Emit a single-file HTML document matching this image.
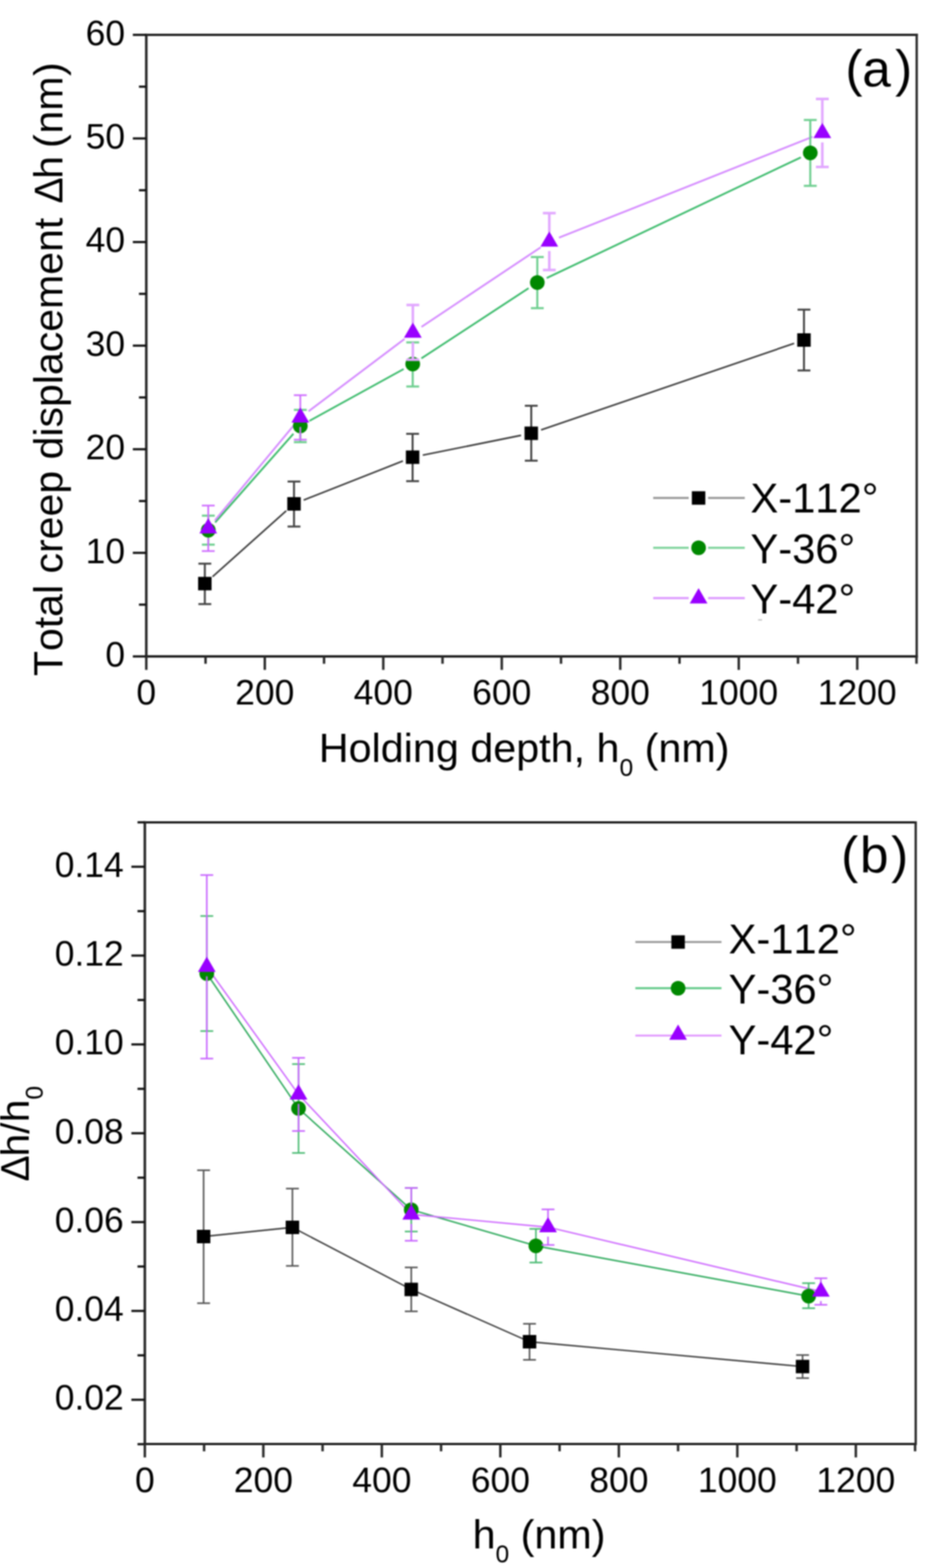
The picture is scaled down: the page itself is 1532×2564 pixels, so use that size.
<!DOCTYPE html>
<html><head><meta charset="utf-8"><title>Creep displacement</title>
<style>
html,body{margin:0;padding:0;background:#fff;}
body{width:1532px;height:2564px;overflow:hidden;}
svg{display:block;filter:blur(0.85px);}
text{font-family:"Liberation Sans", Arial, Helvetica, sans-serif;fill:#000;font-kerning:none;font-feature-settings:"kern" 0;}
</style></head>
<body>
<svg width="1532" height="2564" viewBox="0 0 1532 2564">
<rect width="1532" height="2564" fill="#fff"/>
<line x1="239.20" y1="57.00" x2="1498.80" y2="57.00" stroke="#111" stroke-width="3.6" stroke-linecap="square"/>
<line x1="239.20" y1="1073.40" x2="1498.80" y2="1073.40" stroke="#111" stroke-width="3.6" stroke-linecap="square"/>
<line x1="239.20" y1="57.00" x2="239.20" y2="1073.40" stroke="#2a2a2a" stroke-width="4.2" stroke-linecap="square"/>
<line x1="1498.80" y1="57.00" x2="1498.80" y2="1073.40" stroke="#2a2a2a" stroke-width="3.8000000000000003" stroke-linecap="square"/>
<line x1="217.20" y1="1073.40" x2="239.20" y2="1073.40" stroke="#111" stroke-width="3.6" stroke-linecap="butt"/>
<line x1="217.20" y1="904.00" x2="239.20" y2="904.00" stroke="#111" stroke-width="3.6" stroke-linecap="butt"/>
<line x1="217.20" y1="734.60" x2="239.20" y2="734.60" stroke="#111" stroke-width="3.6" stroke-linecap="butt"/>
<line x1="217.20" y1="565.20" x2="239.20" y2="565.20" stroke="#111" stroke-width="3.6" stroke-linecap="butt"/>
<line x1="217.20" y1="395.80" x2="239.20" y2="395.80" stroke="#111" stroke-width="3.6" stroke-linecap="butt"/>
<line x1="217.20" y1="226.40" x2="239.20" y2="226.40" stroke="#111" stroke-width="3.6" stroke-linecap="butt"/>
<line x1="217.20" y1="57.00" x2="239.20" y2="57.00" stroke="#111" stroke-width="3.6" stroke-linecap="butt"/>
<line x1="227.20" y1="988.70" x2="239.20" y2="988.70" stroke="#111" stroke-width="3.6" stroke-linecap="butt"/>
<line x1="227.20" y1="819.30" x2="239.20" y2="819.30" stroke="#111" stroke-width="3.6" stroke-linecap="butt"/>
<line x1="227.20" y1="649.90" x2="239.20" y2="649.90" stroke="#111" stroke-width="3.6" stroke-linecap="butt"/>
<line x1="227.20" y1="480.50" x2="239.20" y2="480.50" stroke="#111" stroke-width="3.6" stroke-linecap="butt"/>
<line x1="227.20" y1="311.10" x2="239.20" y2="311.10" stroke="#111" stroke-width="3.6" stroke-linecap="butt"/>
<line x1="227.20" y1="141.70" x2="239.20" y2="141.70" stroke="#111" stroke-width="3.6" stroke-linecap="butt"/>
<line x1="239.20" y1="1073.40" x2="239.20" y2="1095.40" stroke="#2a2a2a" stroke-width="4.0" stroke-linecap="butt"/>
<line x1="432.93" y1="1073.40" x2="432.93" y2="1095.40" stroke="#2a2a2a" stroke-width="4.0" stroke-linecap="butt"/>
<line x1="626.67" y1="1073.40" x2="626.67" y2="1095.40" stroke="#2a2a2a" stroke-width="4.0" stroke-linecap="butt"/>
<line x1="820.40" y1="1073.40" x2="820.40" y2="1095.40" stroke="#2a2a2a" stroke-width="4.0" stroke-linecap="butt"/>
<line x1="1014.13" y1="1073.40" x2="1014.13" y2="1095.40" stroke="#2a2a2a" stroke-width="4.0" stroke-linecap="butt"/>
<line x1="1207.87" y1="1073.40" x2="1207.87" y2="1095.40" stroke="#2a2a2a" stroke-width="4.0" stroke-linecap="butt"/>
<line x1="1401.60" y1="1073.40" x2="1401.60" y2="1095.40" stroke="#2a2a2a" stroke-width="4.0" stroke-linecap="butt"/>
<line x1="336.07" y1="1073.40" x2="336.07" y2="1085.40" stroke="#2a2a2a" stroke-width="4.0" stroke-linecap="butt"/>
<line x1="529.80" y1="1073.40" x2="529.80" y2="1085.40" stroke="#2a2a2a" stroke-width="4.0" stroke-linecap="butt"/>
<line x1="723.53" y1="1073.40" x2="723.53" y2="1085.40" stroke="#2a2a2a" stroke-width="4.0" stroke-linecap="butt"/>
<line x1="917.27" y1="1073.40" x2="917.27" y2="1085.40" stroke="#2a2a2a" stroke-width="4.0" stroke-linecap="butt"/>
<line x1="1111.00" y1="1073.40" x2="1111.00" y2="1085.40" stroke="#2a2a2a" stroke-width="4.0" stroke-linecap="butt"/>
<line x1="1304.73" y1="1073.40" x2="1304.73" y2="1085.40" stroke="#2a2a2a" stroke-width="4.0" stroke-linecap="butt"/>
<line x1="1498.47" y1="1073.40" x2="1498.47" y2="1085.40" stroke="#2a2a2a" stroke-width="4.0" stroke-linecap="butt"/>
<text x="204.50" y="1089.90" font-size="58" text-anchor="end" >0</text>
<text x="204.50" y="920.50" font-size="58" text-anchor="end" >10</text>
<text x="204.50" y="751.10" font-size="58" text-anchor="end" >20</text>
<text x="204.50" y="581.70" font-size="58" text-anchor="end" >30</text>
<text x="204.50" y="412.30" font-size="58" text-anchor="end" >40</text>
<text x="204.50" y="242.90" font-size="58" text-anchor="end" >50</text>
<text x="204.50" y="73.50" font-size="58" text-anchor="end" >60</text>
<text x="239.20" y="1151.50" font-size="58" text-anchor="middle" >0</text>
<text x="432.93" y="1151.50" font-size="58" text-anchor="middle" >200</text>
<text x="626.67" y="1151.50" font-size="58" text-anchor="middle" >400</text>
<text x="820.40" y="1151.50" font-size="58" text-anchor="middle" >600</text>
<text x="1014.13" y="1151.50" font-size="58" text-anchor="middle" >800</text>
<text x="1207.87" y="1151.50" font-size="58" text-anchor="middle" >1000</text>
<text x="1401.60" y="1151.50" font-size="58" text-anchor="middle" >1200</text>
<text transform="translate(102.2,1105.6) rotate(-90)" x="0" y="0" font-size="67.1">Total creep displacement <tspan dx="4.5" font-size="64">&#916;</tspan><tspan dx="-2.3">h</tspan> <tspan dx="-5.7">(</tspan><tspan dx="1.4">nm</tspan><tspan dx="0.8">)</tspan></text>
<text x="521.3" y="1246.2" font-size="67.5">Holding depth, h<tspan font-size="40" dy="23">0</tspan><tspan dy="-23"> (nm)</tspan></text>
<text x="1382.35 1409.85 1463.45" y="141" font-size="84">(a)</text>
<line x1="347.57" y1="942.97" x2="468.03" y2="835.23" stroke="#3a3a3a" stroke-width="2.6" stroke-linecap="butt"/>
<line x1="496.52" y1="817.68" x2="658.78" y2="753.82" stroke="#3a3a3a" stroke-width="2.6" stroke-linecap="butt"/>
<line x1="691.26" y1="744.24" x2="851.94" y2="711.86" stroke="#3a3a3a" stroke-width="2.6" stroke-linecap="butt"/>
<line x1="884.69" y1="703.00" x2="1298.41" y2="561.50" stroke="#3a3a3a" stroke-width="2.6" stroke-linecap="butt"/>
<line x1="351.85" y1="854.15" x2="479.75" y2="709.25" stroke="#3cbb6c" stroke-width="3" stroke-linecap="butt"/>
<line x1="505.89" y1="688.30" x2="659.91" y2="603.50" stroke="#3cbb6c" stroke-width="3" stroke-linecap="butt"/>
<line x1="689.02" y1="585.99" x2="864.28" y2="471.31" stroke="#3cbb6c" stroke-width="3" stroke-linecap="butt"/>
<line x1="893.86" y1="454.71" x2="1309.44" y2="257.29" stroke="#3cbb6c" stroke-width="3" stroke-linecap="butt"/>
<line x1="351.36" y1="850.92" x2="480.14" y2="695.78" stroke="#d58cff" stroke-width="3" stroke-linecap="butt"/>
<line x1="504.58" y1="672.47" x2="661.42" y2="554.23" stroke="#d58cff" stroke-width="3" stroke-linecap="butt"/>
<line x1="689.14" y1="534.56" x2="883.96" y2="404.44" stroke="#d58cff" stroke-width="3" stroke-linecap="butt"/>
<line x1="913.90" y1="388.72" x2="1328.70" y2="223.68" stroke="#d58cff" stroke-width="3" stroke-linecap="butt"/>
<line x1="334.90" y1="921.70" x2="334.90" y2="987.80" stroke="#444" stroke-width="3.2" stroke-linecap="butt"/>
<line x1="324.40" y1="921.70" x2="345.40" y2="921.70" stroke="#444" stroke-width="3.2" stroke-linecap="butt"/>
<line x1="324.40" y1="987.80" x2="345.40" y2="987.80" stroke="#444" stroke-width="3.2" stroke-linecap="butt"/>
<line x1="480.70" y1="787.40" x2="480.70" y2="861.00" stroke="#444" stroke-width="3.2" stroke-linecap="butt"/>
<line x1="470.20" y1="787.40" x2="491.20" y2="787.40" stroke="#444" stroke-width="3.2" stroke-linecap="butt"/>
<line x1="470.20" y1="861.00" x2="491.20" y2="861.00" stroke="#444" stroke-width="3.2" stroke-linecap="butt"/>
<line x1="674.60" y1="709.40" x2="674.60" y2="786.80" stroke="#444" stroke-width="3.2" stroke-linecap="butt"/>
<line x1="664.10" y1="709.40" x2="685.10" y2="709.40" stroke="#444" stroke-width="3.2" stroke-linecap="butt"/>
<line x1="664.10" y1="786.80" x2="685.10" y2="786.80" stroke="#444" stroke-width="3.2" stroke-linecap="butt"/>
<line x1="868.60" y1="663.50" x2="868.60" y2="753.30" stroke="#444" stroke-width="3.2" stroke-linecap="butt"/>
<line x1="858.10" y1="663.50" x2="879.10" y2="663.50" stroke="#444" stroke-width="3.2" stroke-linecap="butt"/>
<line x1="858.10" y1="753.30" x2="879.10" y2="753.30" stroke="#444" stroke-width="3.2" stroke-linecap="butt"/>
<line x1="1314.50" y1="506.30" x2="1314.50" y2="605.80" stroke="#444" stroke-width="3.2" stroke-linecap="butt"/>
<line x1="1304.00" y1="506.30" x2="1325.00" y2="506.30" stroke="#444" stroke-width="3.2" stroke-linecap="butt"/>
<line x1="1304.00" y1="605.80" x2="1325.00" y2="605.80" stroke="#444" stroke-width="3.2" stroke-linecap="butt"/>
<rect x="323.90" y="943.30" width="22" height="22" fill="#000"/>
<rect x="469.70" y="812.90" width="22" height="22" fill="#000"/>
<rect x="663.60" y="736.60" width="22" height="22" fill="#000"/>
<rect x="857.60" y="697.50" width="22" height="22" fill="#000"/>
<rect x="1303.50" y="545.00" width="22" height="22" fill="#000"/>
<line x1="340.60" y1="843.20" x2="340.60" y2="890.60" stroke="#6fcf90" stroke-width="3.4" stroke-linecap="butt"/>
<line x1="330.10" y1="843.20" x2="351.10" y2="843.20" stroke="#6fcf90" stroke-width="3.4" stroke-linecap="butt"/>
<line x1="330.10" y1="890.60" x2="351.10" y2="890.60" stroke="#6fcf90" stroke-width="3.4" stroke-linecap="butt"/>
<line x1="491.00" y1="670.20" x2="491.00" y2="723.00" stroke="#6fcf90" stroke-width="3.4" stroke-linecap="butt"/>
<line x1="480.50" y1="670.20" x2="501.50" y2="670.20" stroke="#6fcf90" stroke-width="3.4" stroke-linecap="butt"/>
<line x1="480.50" y1="723.00" x2="501.50" y2="723.00" stroke="#6fcf90" stroke-width="3.4" stroke-linecap="butt"/>
<line x1="674.80" y1="559.90" x2="674.80" y2="632.00" stroke="#6fcf90" stroke-width="3.4" stroke-linecap="butt"/>
<line x1="664.30" y1="559.90" x2="685.30" y2="559.90" stroke="#6fcf90" stroke-width="3.4" stroke-linecap="butt"/>
<line x1="664.30" y1="632.00" x2="685.30" y2="632.00" stroke="#6fcf90" stroke-width="3.4" stroke-linecap="butt"/>
<line x1="878.50" y1="420.30" x2="878.50" y2="503.90" stroke="#6fcf90" stroke-width="3.4" stroke-linecap="butt"/>
<line x1="868.00" y1="420.30" x2="889.00" y2="420.30" stroke="#6fcf90" stroke-width="3.4" stroke-linecap="butt"/>
<line x1="868.00" y1="503.90" x2="889.00" y2="503.90" stroke="#6fcf90" stroke-width="3.4" stroke-linecap="butt"/>
<line x1="1324.80" y1="196.20" x2="1324.80" y2="303.90" stroke="#6fcf90" stroke-width="3.4" stroke-linecap="butt"/>
<line x1="1314.30" y1="196.20" x2="1335.30" y2="196.20" stroke="#6fcf90" stroke-width="3.4" stroke-linecap="butt"/>
<line x1="1314.30" y1="303.90" x2="1335.30" y2="303.90" stroke="#6fcf90" stroke-width="3.4" stroke-linecap="butt"/>
<circle cx="340.60" cy="866.90" r="12" fill="#008800"/>
<circle cx="491.00" cy="696.50" r="12" fill="#008800"/>
<circle cx="674.80" cy="595.30" r="12" fill="#008800"/>
<circle cx="878.50" cy="462.00" r="12" fill="#008800"/>
<circle cx="1324.80" cy="250.00" r="12" fill="#008800"/>
<line x1="340.50" y1="826.70" x2="340.50" y2="848.50" stroke="#cf6fff" stroke-width="2.8" stroke-linecap="butt"/>
<line x1="340.50" y1="879.50" x2="340.50" y2="901.10" stroke="#cf6fff" stroke-width="2.8" stroke-linecap="butt"/>
<line x1="330.00" y1="826.70" x2="351.00" y2="826.70" stroke="#cf6fff" stroke-width="2.8" stroke-linecap="butt"/>
<line x1="330.00" y1="901.10" x2="351.00" y2="901.10" stroke="#cf6fff" stroke-width="2.8" stroke-linecap="butt"/>
<line x1="491.00" y1="646.20" x2="491.00" y2="667.20" stroke="#cf6fff" stroke-width="2.8" stroke-linecap="butt"/>
<line x1="491.00" y1="698.20" x2="491.00" y2="719.00" stroke="#cf6fff" stroke-width="2.8" stroke-linecap="butt"/>
<line x1="480.50" y1="646.20" x2="501.50" y2="646.20" stroke="#cf6fff" stroke-width="2.8" stroke-linecap="butt"/>
<line x1="480.50" y1="719.00" x2="501.50" y2="719.00" stroke="#cf6fff" stroke-width="2.8" stroke-linecap="butt"/>
<line x1="675.00" y1="498.70" x2="675.00" y2="528.50" stroke="#e2a8ff" stroke-width="4.2" stroke-linecap="butt"/>
<line x1="675.00" y1="559.50" x2="675.00" y2="588.20" stroke="#e2a8ff" stroke-width="4.2" stroke-linecap="butt"/>
<line x1="664.50" y1="498.70" x2="685.50" y2="498.70" stroke="#e2a8ff" stroke-width="4.2" stroke-linecap="butt"/>
<line x1="664.50" y1="588.20" x2="685.50" y2="588.20" stroke="#e2a8ff" stroke-width="4.2" stroke-linecap="butt"/>
<line x1="898.10" y1="348.50" x2="898.10" y2="379.50" stroke="#e2a8ff" stroke-width="4.2" stroke-linecap="butt"/>
<line x1="898.10" y1="410.50" x2="898.10" y2="441.50" stroke="#e2a8ff" stroke-width="4.2" stroke-linecap="butt"/>
<line x1="887.60" y1="348.50" x2="908.60" y2="348.50" stroke="#e2a8ff" stroke-width="4.2" stroke-linecap="butt"/>
<line x1="887.60" y1="441.50" x2="908.60" y2="441.50" stroke="#e2a8ff" stroke-width="4.2" stroke-linecap="butt"/>
<line x1="1344.50" y1="161.80" x2="1344.50" y2="201.90" stroke="#e2a8ff" stroke-width="4.2" stroke-linecap="butt"/>
<line x1="1344.50" y1="232.90" x2="1344.50" y2="273.00" stroke="#e2a8ff" stroke-width="4.2" stroke-linecap="butt"/>
<line x1="1334.00" y1="161.80" x2="1355.00" y2="161.80" stroke="#e2a8ff" stroke-width="4.2" stroke-linecap="butt"/>
<line x1="1334.00" y1="273.00" x2="1355.00" y2="273.00" stroke="#e2a8ff" stroke-width="4.2" stroke-linecap="butt"/>
<polygon points="340.50,847.26 326.00,872.37 355.00,872.37" fill="#9900ff"/>
<polygon points="491.00,665.96 476.50,691.07 505.50,691.07" fill="#9900ff"/>
<polygon points="675.00,527.26 660.50,552.37 689.50,552.37" fill="#9900ff"/>
<polygon points="898.10,378.26 883.60,403.37 912.60,403.37" fill="#9900ff"/>
<polygon points="1344.50,200.66 1330.00,225.77 1359.00,225.77" fill="#9900ff"/>
<line x1="1068.00" y1="814.30" x2="1126.00" y2="814.30" stroke="#999" stroke-width="3.4" stroke-linecap="butt"/>
<line x1="1157.70" y1="814.30" x2="1217.70" y2="814.30" stroke="#999" stroke-width="3.4" stroke-linecap="butt"/>
<rect x="1131.20" y="803.30" width="22" height="22" fill="#000"/>
<text x="1227.00" y="837.70" font-size="68.2" text-anchor="start" >X-112&#176;</text>
<line x1="1068.00" y1="895.80" x2="1126.00" y2="895.80" stroke="#7fd49c" stroke-width="3.4" stroke-linecap="butt"/>
<line x1="1157.70" y1="895.80" x2="1217.70" y2="895.80" stroke="#7fd49c" stroke-width="3.4" stroke-linecap="butt"/>
<circle cx="1142.20" cy="895.80" r="12" fill="#008800"/>
<text x="1227.00" y="920.60" font-size="68.2" text-anchor="start" >Y-36&#176;</text>
<line x1="1068.00" y1="978.00" x2="1126.00" y2="978.00" stroke="#dd99ff" stroke-width="3.4" stroke-linecap="butt"/>
<line x1="1157.70" y1="978.00" x2="1217.70" y2="978.00" stroke="#dd99ff" stroke-width="3.4" stroke-linecap="butt"/>
<polygon points="1142.20,961.76 1127.70,986.87 1156.70,986.87" fill="#9900ff"/>
<text x="1227.00" y="1003.40" font-size="68.2" text-anchor="start" >Y-42&#176;</text>
<line x1="1239.50" y1="1013.60" x2="1246.00" y2="1013.60" stroke="#aaa" stroke-width="1.6" stroke-linecap="butt"/>
<line x1="236.80" y1="1344.80" x2="1497.20" y2="1344.80" stroke="#111" stroke-width="3.6" stroke-linecap="square"/>
<line x1="236.80" y1="2361.20" x2="1497.20" y2="2361.20" stroke="#111" stroke-width="3.6" stroke-linecap="square"/>
<line x1="236.80" y1="1344.80" x2="236.80" y2="2361.20" stroke="#2a2a2a" stroke-width="4.2" stroke-linecap="square"/>
<line x1="1497.20" y1="1344.80" x2="1497.20" y2="2361.20" stroke="#2a2a2a" stroke-width="3.8000000000000003" stroke-linecap="square"/>
<line x1="214.80" y1="2288.90" x2="236.80" y2="2288.90" stroke="#111" stroke-width="3.6" stroke-linecap="butt"/>
<line x1="214.80" y1="2143.63" x2="236.80" y2="2143.63" stroke="#111" stroke-width="3.6" stroke-linecap="butt"/>
<line x1="214.80" y1="1998.37" x2="236.80" y2="1998.37" stroke="#111" stroke-width="3.6" stroke-linecap="butt"/>
<line x1="214.80" y1="1853.10" x2="236.80" y2="1853.10" stroke="#111" stroke-width="3.6" stroke-linecap="butt"/>
<line x1="214.80" y1="1707.83" x2="236.80" y2="1707.83" stroke="#111" stroke-width="3.6" stroke-linecap="butt"/>
<line x1="214.80" y1="1562.57" x2="236.80" y2="1562.57" stroke="#111" stroke-width="3.6" stroke-linecap="butt"/>
<line x1="214.80" y1="1417.30" x2="236.80" y2="1417.30" stroke="#111" stroke-width="3.6" stroke-linecap="butt"/>
<line x1="224.80" y1="2361.53" x2="236.80" y2="2361.53" stroke="#111" stroke-width="3.6" stroke-linecap="butt"/>
<line x1="224.80" y1="2216.27" x2="236.80" y2="2216.27" stroke="#111" stroke-width="3.6" stroke-linecap="butt"/>
<line x1="224.80" y1="2071.00" x2="236.80" y2="2071.00" stroke="#111" stroke-width="3.6" stroke-linecap="butt"/>
<line x1="224.80" y1="1925.73" x2="236.80" y2="1925.73" stroke="#111" stroke-width="3.6" stroke-linecap="butt"/>
<line x1="224.80" y1="1780.47" x2="236.80" y2="1780.47" stroke="#111" stroke-width="3.6" stroke-linecap="butt"/>
<line x1="224.80" y1="1635.20" x2="236.80" y2="1635.20" stroke="#111" stroke-width="3.6" stroke-linecap="butt"/>
<line x1="224.80" y1="1489.93" x2="236.80" y2="1489.93" stroke="#111" stroke-width="3.6" stroke-linecap="butt"/>
<line x1="224.80" y1="1344.67" x2="236.80" y2="1344.67" stroke="#111" stroke-width="3.6" stroke-linecap="butt"/>
<line x1="236.80" y1="2361.20" x2="236.80" y2="2383.20" stroke="#2a2a2a" stroke-width="4.0" stroke-linecap="butt"/>
<line x1="430.55" y1="2361.20" x2="430.55" y2="2383.20" stroke="#2a2a2a" stroke-width="4.0" stroke-linecap="butt"/>
<line x1="624.30" y1="2361.20" x2="624.30" y2="2383.20" stroke="#2a2a2a" stroke-width="4.0" stroke-linecap="butt"/>
<line x1="818.05" y1="2361.20" x2="818.05" y2="2383.20" stroke="#2a2a2a" stroke-width="4.0" stroke-linecap="butt"/>
<line x1="1011.80" y1="2361.20" x2="1011.80" y2="2383.20" stroke="#2a2a2a" stroke-width="4.0" stroke-linecap="butt"/>
<line x1="1205.55" y1="2361.20" x2="1205.55" y2="2383.20" stroke="#2a2a2a" stroke-width="4.0" stroke-linecap="butt"/>
<line x1="1399.30" y1="2361.20" x2="1399.30" y2="2383.20" stroke="#2a2a2a" stroke-width="4.0" stroke-linecap="butt"/>
<line x1="333.68" y1="2361.20" x2="333.68" y2="2373.20" stroke="#2a2a2a" stroke-width="4.0" stroke-linecap="butt"/>
<line x1="527.42" y1="2361.20" x2="527.42" y2="2373.20" stroke="#2a2a2a" stroke-width="4.0" stroke-linecap="butt"/>
<line x1="721.17" y1="2361.20" x2="721.17" y2="2373.20" stroke="#2a2a2a" stroke-width="4.0" stroke-linecap="butt"/>
<line x1="914.92" y1="2361.20" x2="914.92" y2="2373.20" stroke="#2a2a2a" stroke-width="4.0" stroke-linecap="butt"/>
<line x1="1108.67" y1="2361.20" x2="1108.67" y2="2373.20" stroke="#2a2a2a" stroke-width="4.0" stroke-linecap="butt"/>
<line x1="1302.42" y1="2361.20" x2="1302.42" y2="2373.20" stroke="#2a2a2a" stroke-width="4.0" stroke-linecap="butt"/>
<line x1="1496.17" y1="2361.20" x2="1496.17" y2="2373.20" stroke="#2a2a2a" stroke-width="4.0" stroke-linecap="butt"/>
<text x="202.30" y="2305.40" font-size="58" text-anchor="end" >0.02</text>
<text x="202.30" y="2160.13" font-size="58" text-anchor="end" >0.04</text>
<text x="202.30" y="2014.87" font-size="58" text-anchor="end" >0.06</text>
<text x="202.30" y="1869.60" font-size="58" text-anchor="end" >0.08</text>
<text x="202.30" y="1724.33" font-size="58" text-anchor="end" >0.10</text>
<text x="202.30" y="1579.07" font-size="58" text-anchor="end" >0.12</text>
<text x="202.30" y="1433.80" font-size="58" text-anchor="end" >0.14</text>
<text x="236.80" y="2440.00" font-size="58" text-anchor="middle" >0</text>
<text x="430.55" y="2440.00" font-size="58" text-anchor="middle" >200</text>
<text x="624.30" y="2440.00" font-size="58" text-anchor="middle" >400</text>
<text x="818.05" y="2440.00" font-size="58" text-anchor="middle" >600</text>
<text x="1011.80" y="2440.00" font-size="58" text-anchor="middle" >800</text>
<text x="1205.55" y="2440.00" font-size="58" text-anchor="middle" >1000</text>
<text x="1399.30" y="2440.00" font-size="58" text-anchor="middle" >1200</text>
<text transform="translate(47.3,1932.5) rotate(-90)" x="0" y="0" font-size="67"><tspan font-size="64" dx="0.5">&#916;</tspan><tspan dx="-2">h/h</tspan><tspan font-size="40" dy="23">0</tspan></text>
<text x="772.8" y="2531.8" font-size="67.5">h<tspan font-size="40" dy="23">0</tspan><tspan dy="-23"> (nm)</tspan></text>
<text x="1375.15 1405.9 1456.9" y="1426.7" font-size="84">(b)</text>
<polyline points="332.90,2022.00 478.10,2007.00 672.40,2108.50 865.80,2194.00 1312.20,2234.60" fill="none" stroke="#3a3a3a" stroke-width="2.4" stroke-linejoin="round"/>
<polyline points="338.10,1592.00 488.10,1812.60 672.40,1978.20 876.20,2037.20 1322.10,2119.50" fill="none" stroke="#2eaa5c" stroke-width="2.4" stroke-linejoin="round"/>
<polyline points="338.10,1581.00 488.10,1789.60 672.40,1985.80 896.00,2006.70 1342.10,2112.00" fill="none" stroke="#cf6dff" stroke-width="2.4" stroke-linejoin="round"/>
<line x1="332.90" y1="1913.60" x2="332.90" y2="2131.00" stroke="#555" stroke-width="2.6" stroke-linecap="butt"/>
<line x1="322.40" y1="1913.60" x2="343.40" y2="1913.60" stroke="#555" stroke-width="2.6" stroke-linecap="butt"/>
<line x1="322.40" y1="2131.00" x2="343.40" y2="2131.00" stroke="#555" stroke-width="2.6" stroke-linecap="butt"/>
<line x1="478.10" y1="1943.60" x2="478.10" y2="2070.00" stroke="#555" stroke-width="2.6" stroke-linecap="butt"/>
<line x1="467.60" y1="1943.60" x2="488.60" y2="1943.60" stroke="#555" stroke-width="2.6" stroke-linecap="butt"/>
<line x1="467.60" y1="2070.00" x2="488.60" y2="2070.00" stroke="#555" stroke-width="2.6" stroke-linecap="butt"/>
<line x1="672.40" y1="2072.50" x2="672.40" y2="2144.30" stroke="#555" stroke-width="2.6" stroke-linecap="butt"/>
<line x1="661.90" y1="2072.50" x2="682.90" y2="2072.50" stroke="#555" stroke-width="2.6" stroke-linecap="butt"/>
<line x1="661.90" y1="2144.30" x2="682.90" y2="2144.30" stroke="#555" stroke-width="2.6" stroke-linecap="butt"/>
<line x1="865.80" y1="2164.70" x2="865.80" y2="2223.60" stroke="#555" stroke-width="2.6" stroke-linecap="butt"/>
<line x1="855.30" y1="2164.70" x2="876.30" y2="2164.70" stroke="#555" stroke-width="2.6" stroke-linecap="butt"/>
<line x1="855.30" y1="2223.60" x2="876.30" y2="2223.60" stroke="#555" stroke-width="2.6" stroke-linecap="butt"/>
<line x1="1312.20" y1="2215.80" x2="1312.20" y2="2253.50" stroke="#555" stroke-width="2.6" stroke-linecap="butt"/>
<line x1="1301.70" y1="2215.80" x2="1322.70" y2="2215.80" stroke="#555" stroke-width="2.6" stroke-linecap="butt"/>
<line x1="1301.70" y1="2253.50" x2="1322.70" y2="2253.50" stroke="#555" stroke-width="2.6" stroke-linecap="butt"/>
<rect x="321.90" y="2011.00" width="22" height="22" fill="#000"/>
<rect x="467.10" y="1996.00" width="22" height="22" fill="#000"/>
<rect x="661.40" y="2097.50" width="22" height="22" fill="#000"/>
<rect x="854.80" y="2183.00" width="22" height="22" fill="#000"/>
<rect x="1301.20" y="2223.60" width="22" height="22" fill="#000"/>
<line x1="338.10" y1="1497.90" x2="338.10" y2="1686.00" stroke="#4cbb74" stroke-width="2.6" stroke-linecap="butt"/>
<line x1="327.60" y1="1497.90" x2="348.60" y2="1497.90" stroke="#4cbb74" stroke-width="2.6" stroke-linecap="butt"/>
<line x1="327.60" y1="1686.00" x2="348.60" y2="1686.00" stroke="#4cbb74" stroke-width="2.6" stroke-linecap="butt"/>
<line x1="488.10" y1="1740.00" x2="488.10" y2="1885.30" stroke="#4cbb74" stroke-width="2.6" stroke-linecap="butt"/>
<line x1="477.60" y1="1740.00" x2="498.60" y2="1740.00" stroke="#4cbb74" stroke-width="2.6" stroke-linecap="butt"/>
<line x1="477.60" y1="1885.30" x2="498.60" y2="1885.30" stroke="#4cbb74" stroke-width="2.6" stroke-linecap="butt"/>
<line x1="672.40" y1="1942.60" x2="672.40" y2="2013.80" stroke="#4cbb74" stroke-width="2.6" stroke-linecap="butt"/>
<line x1="661.90" y1="1942.60" x2="682.90" y2="1942.60" stroke="#4cbb74" stroke-width="2.6" stroke-linecap="butt"/>
<line x1="661.90" y1="2013.80" x2="682.90" y2="2013.80" stroke="#4cbb74" stroke-width="2.6" stroke-linecap="butt"/>
<line x1="876.20" y1="2009.50" x2="876.20" y2="2064.50" stroke="#4cbb74" stroke-width="2.6" stroke-linecap="butt"/>
<line x1="865.70" y1="2009.50" x2="886.70" y2="2009.50" stroke="#4cbb74" stroke-width="2.6" stroke-linecap="butt"/>
<line x1="865.70" y1="2064.50" x2="886.70" y2="2064.50" stroke="#4cbb74" stroke-width="2.6" stroke-linecap="butt"/>
<line x1="1322.10" y1="2098.20" x2="1322.10" y2="2139.20" stroke="#4cbb74" stroke-width="2.6" stroke-linecap="butt"/>
<line x1="1311.60" y1="2098.20" x2="1332.60" y2="2098.20" stroke="#4cbb74" stroke-width="2.6" stroke-linecap="butt"/>
<line x1="1311.60" y1="2139.20" x2="1332.60" y2="2139.20" stroke="#4cbb74" stroke-width="2.6" stroke-linecap="butt"/>
<circle cx="338.10" cy="1592.00" r="12" fill="#008800"/>
<circle cx="488.10" cy="1812.60" r="12" fill="#008800"/>
<circle cx="672.40" cy="1978.20" r="12" fill="#008800"/>
<circle cx="876.20" cy="2037.20" r="12" fill="#008800"/>
<circle cx="1322.10" cy="2119.50" r="12" fill="#008800"/>
<line x1="338.10" y1="1430.90" x2="338.10" y2="1565.50" stroke="#c866ff" stroke-width="2.6" stroke-linecap="butt"/>
<line x1="338.10" y1="1596.50" x2="338.10" y2="1731.00" stroke="#c866ff" stroke-width="2.6" stroke-linecap="butt"/>
<line x1="327.60" y1="1430.90" x2="348.60" y2="1430.90" stroke="#c866ff" stroke-width="2.6" stroke-linecap="butt"/>
<line x1="327.60" y1="1731.00" x2="348.60" y2="1731.00" stroke="#c866ff" stroke-width="2.6" stroke-linecap="butt"/>
<line x1="488.10" y1="1729.80" x2="488.10" y2="1774.10" stroke="#c866ff" stroke-width="2.6" stroke-linecap="butt"/>
<line x1="488.10" y1="1805.10" x2="488.10" y2="1849.40" stroke="#c866ff" stroke-width="2.6" stroke-linecap="butt"/>
<line x1="477.60" y1="1729.80" x2="498.60" y2="1729.80" stroke="#c866ff" stroke-width="2.6" stroke-linecap="butt"/>
<line x1="477.60" y1="1849.40" x2="498.60" y2="1849.40" stroke="#c866ff" stroke-width="2.6" stroke-linecap="butt"/>
<line x1="672.40" y1="1942.60" x2="672.40" y2="1970.30" stroke="#c866ff" stroke-width="2.6" stroke-linecap="butt"/>
<line x1="672.40" y1="2001.30" x2="672.40" y2="2028.90" stroke="#c866ff" stroke-width="2.6" stroke-linecap="butt"/>
<line x1="661.90" y1="1942.60" x2="682.90" y2="1942.60" stroke="#c866ff" stroke-width="2.6" stroke-linecap="butt"/>
<line x1="661.90" y1="2028.90" x2="682.90" y2="2028.90" stroke="#c866ff" stroke-width="2.6" stroke-linecap="butt"/>
<line x1="896.00" y1="1977.60" x2="896.00" y2="1991.20" stroke="#c866ff" stroke-width="2.6" stroke-linecap="butt"/>
<line x1="896.00" y1="2022.20" x2="896.00" y2="2035.80" stroke="#c866ff" stroke-width="2.6" stroke-linecap="butt"/>
<line x1="885.50" y1="1977.60" x2="906.50" y2="1977.60" stroke="#c866ff" stroke-width="2.6" stroke-linecap="butt"/>
<line x1="885.50" y1="2035.80" x2="906.50" y2="2035.80" stroke="#c866ff" stroke-width="2.6" stroke-linecap="butt"/>
<line x1="1342.10" y1="2090.20" x2="1342.10" y2="2096.50" stroke="#c866ff" stroke-width="2.6" stroke-linecap="butt"/>
<line x1="1342.10" y1="2127.50" x2="1342.10" y2="2133.60" stroke="#c866ff" stroke-width="2.6" stroke-linecap="butt"/>
<line x1="1331.60" y1="2090.20" x2="1352.60" y2="2090.20" stroke="#c866ff" stroke-width="2.6" stroke-linecap="butt"/>
<line x1="1331.60" y1="2133.60" x2="1352.60" y2="2133.60" stroke="#c866ff" stroke-width="2.6" stroke-linecap="butt"/>
<polygon points="338.10,1564.26 323.60,1589.37 352.60,1589.37" fill="#9900ff"/>
<polygon points="488.10,1772.86 473.60,1797.97 502.60,1797.97" fill="#9900ff"/>
<polygon points="672.40,1969.06 657.90,1994.17 686.90,1994.17" fill="#9900ff"/>
<polygon points="896.00,1989.96 881.50,2015.07 910.50,2015.07" fill="#9900ff"/>
<polygon points="1342.10,2095.26 1327.60,2120.37 1356.60,2120.37" fill="#9900ff"/>
<line x1="1038.80" y1="1540.40" x2="1179.60" y2="1540.40" stroke="#999" stroke-width="3.2" stroke-linecap="butt"/>
<rect x="1097.70" y="1529.40" width="22" height="22" fill="#000"/>
<text x="1191.20" y="1558.90" font-size="68.2" text-anchor="start" >X-112&#176;</text>
<line x1="1038.80" y1="1615.90" x2="1179.60" y2="1615.90" stroke="#5cc884" stroke-width="3.2" stroke-linecap="butt"/>
<circle cx="1108.70" cy="1615.90" r="12" fill="#008800"/>
<text x="1191.20" y="1641.40" font-size="68.2" text-anchor="start" >Y-36&#176;</text>
<line x1="1038.80" y1="1693.40" x2="1179.60" y2="1693.40" stroke="#e29bff" stroke-width="3.2" stroke-linecap="butt"/>
<polygon points="1108.70,1675.16 1094.20,1700.27 1123.20,1700.27" fill="#9900ff"/>
<text x="1191.20" y="1723.90" font-size="68.2" text-anchor="start" >Y-42&#176;</text>
</svg>
</body></html>
